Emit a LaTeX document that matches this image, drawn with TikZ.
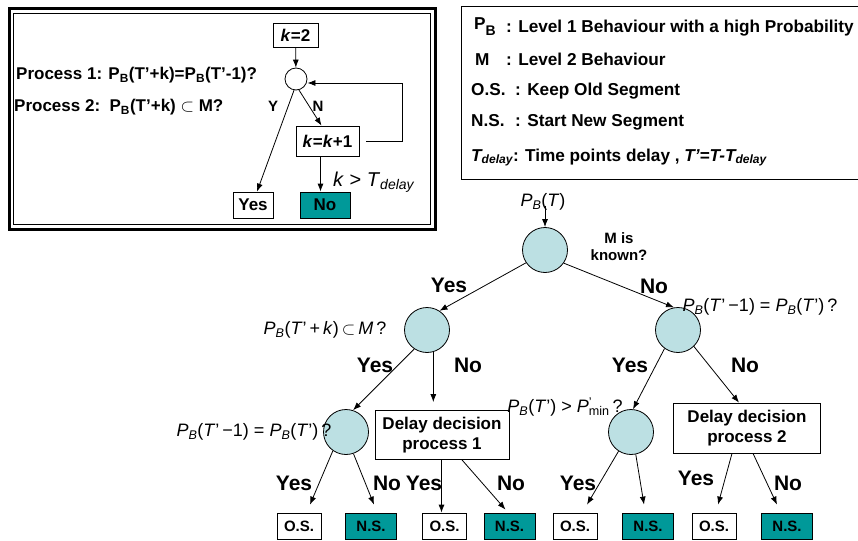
\documentclass[tikz,border=0pt]{standalone}
\usepackage{fontspec}
\setmainfont{Liberation Sans}
\usetikzlibrary{arrows.meta}
\definecolor{circfill}{RGB}{188,224,227}
\definecolor{nsteal}{RGB}{0,153,153}
\newcommand{\pbsub}{\textit{P}\textsubscript{\textit{B}}}
\newcommand{\pbbold}{P\textsubscript{B}}

\begin{document}
\begin{tikzpicture}[x=1pt,y=-1pt,
		every node/.style={font=\bfseries\fontsize{17}{20}\selectfont, inner sep=0pt},
		arr/.style={-{Latex[length=8pt,width=6pt]}, line width=0.8pt},
		test/.style={circle, draw, fill=circfill, minimum size=45pt, line width=0.8pt},
		box/.style={draw, fill=white, line width=0.8pt, minimum height=26pt},
		osbox/.style={box, minimum width=44pt, font=\bfseries\fontsize{15}{15}\selectfont},
		nsbox/.style={osbox, fill=nsteal, minimum width=51pt},
		yn/.style={font=\bfseries\fontsize{21}{21}\selectfont},
		cond/.style={font=\fontsize{18}{18}\selectfont},
		legend/.style={anchor=base west, font=\bfseries\fontsize{17.2}{20}\selectfont}]
	\useasboundingbox (0,0) rectangle (858,540);
			\draw [line width=3pt] (9,8.5) rectangle (435,229);
			\draw [line width=0.8pt] (13.5,13) rectangle (430.5,224.5);
			\node [anchor=base west] (proc1) at (16,80) {Process 1: \pbbold(T'+k)=\pbbold(T'-1)?};
			\node [anchor=base west] (proc2) at (14,112) {Process 2:\ \ \pbbold(T'+k) $\subset$ M?};
			\node [box, minimum width=45pt, minimum height=24pt] (kset) at (295.5,35) {\textit{k}=2};
			\node [circle, draw, line width=0.8pt, minimum size=22pt] (chk) at (296,79) {};
			\node [box, minimum width=63pt, minimum height=30pt] (kinc) at (327.5,141) {\textit{k}=\textit{k}+1};
			\node [box, minimum width=40pt] (yesb) at (253,205) {Yes};
			\node [box, fill=nsteal, minimum width=50pt] (nob) at (325,205) {No};
			\node [font=\bfseries\fontsize{15}{15}\selectfont] (ylab) at (273,106) {Y};
			\node [font=\bfseries\fontsize{15}{15}\selectfont] (nlab) at (318,106) {N};
			\node [anchor=base west, font=\fontsize{20}{20}\selectfont] (kgt) at (333,186) {\textit{k} > \textit{T}\textsubscript{\textit{delay}}};
			\coordinate (loop) at (402,83);
			\draw [arr] (kset) -- (chk);
			\draw [arr] (chk.-75) -- ([xshift=-6pt]kinc.north);
			\draw [arr] (chk.-100) -- ([xshift=4pt]yesb.north);
			\draw [arr] ([xshift=-7pt]kinc.south) -- ([xshift=-7pt]kinc.south |- nob.north);
			\draw [line width=0.8pt, -{Latex[length=8pt,width=6pt]}] ([xshift=7pt]kinc.east) -| (loop) -- (loop -| chk.east);
			\draw [line width=0.8pt] (461,6) rectangle (862,179);
			\node [legend] (keypb) at (474,30) {P\raisebox{-6pt}{\fontsize{14}{14}\selectfont B}};
			\node [legend] (txtpb) at (506,33) {: Level 1 Behaviour with a high Probability};
			\node [legend] (keym) at (475,66) {M};
			\node [legend] (txtm) at (506,66) {: Level 2 Behaviour};
			\node [legend] (keyos) at (471,96) {O.S.};
			\node [legend] (txtos) at (515,96) {: Keep Old Segment};
			\node [legend] (keyns) at (471,127) {N.S.};
			\node [legend] (txtns) at (515,127) {: Start New Segment};
			\node [legend] (txtdl) at (471,161) {\textit{T\textsubscript{delay}}: Time points delay , \textit{T'=T-T\textsubscript{delay}}};
			\node [cond] (pbt) at (543,202) {\pbsub(\textit{T})};
			\node [test] (root) at (545,250) {};
			\node [align=center, font=\bfseries\fontsize{15}{17}\selectfont] (mknown) at (619,247) {M is\\known?};
			\node [test] (lone) at (427,330) {};
			\node [test] (rone) at (678,330) {};
			\node [test] (ltwo) at (346,432) {};
			\node [test] (rtwo) at (631,432) {};
			\node [box, minimum width=134pt, minimum height=49pt, align=center] (delone) at (442,435) {Delay decision\\process 1};
			\node [box, minimum width=147pt, minimum height=50pt, align=center] (deltwo) at (747,428) {Delay decision\\process 2};
			\node [cond] (qone) at (325,330) {\pbsub(\textit{T}'\,+\,\textit{k})\,$\subset$\,\textit{M}\,?};
			\node [cond] (qtwo) at (760,307) {\pbsub(\textit{T}'\,−1) = \pbsub(\textit{T}')\,?};
			\node [cond] (qthree) at (254,432) {\pbsub(\textit{T}'\,−1) = \pbsub(\textit{T}')\,?};
			\node [cond] (qfour) at (565,407) {\pbsub(\textit{T}') > \textit{P}\rlap{\textsuperscript{'}}\textsubscript{min}\,?};
			\node [osbox] (osa) at (299,526) {O.S.};
			\node [nsbox] (nsa) at (371,526) {N.S.};
			\node [osbox] (osb) at (444.5,526) {O.S.};
			\node [nsbox] (nsb) at (509.5,526) {N.S.};
			\node [osbox] (osc) at (575,526) {O.S.};
			\node [nsbox] (nsc) at (648,526) {N.S.};
			\node [osbox] (osd) at (714,526) {O.S.};
			\node [nsbox] (nsd) at (787,526) {N.S.};
			\node [yn] (yroot) at (449,285) {Yes};
			\node [yn] (nroot) at (654,286) {No};
			\node [yn] (ylone) at (375,365) {Yes};
			\node [yn] (nlone) at (468,365) {No};
			\node [yn] (yrone) at (630,365) {Yes};
			\node [yn] (nrone) at (745,365) {No};
			\node [yn] (yltwo) at (294,483) {Yes};
			\node [yn] (nltwo) at (387,483) {No};
			\node [yn] (ydone) at (424,483) {Yes};
			\node [yn] (ndone) at (511,483) {No};
			\node [yn] (yrtwo) at (578,483) {Yes};
			\node [yn] (ydtwo) at (696,478) {Yes};
			\node [yn] (ndtwo) at (788,483) {No};
			\draw [arr] ([yshift=5pt]pbt.south -| root.north) -- (root.north);
			\draw [arr] (root.-146) -- (lone.57);
			\draw [arr] (root.-35) -- (rone.100);
			\draw [arr] (lone.-124) -- (ltwo.72);
			\draw [arr] (lone.-74) -- ([yshift=8pt]lone.-74 |- delone.north);
			\draw [arr] (rone.-126) -- (rtwo.85);
			\draw [arr] (rone.-46) -- ([xshift=-8pt]deltwo.north);
			\draw [arr] (ltwo.-125) -- ([xshift=11pt,yshift=8pt]osa.north);
			\draw [arr] (ltwo.-71) -- ([xshift=3pt,yshift=8pt]nsa.north);
			\draw [arr] ([xshift=-3pt]osb.north |- delone.south) -- ([xshift=-3pt]osb.north);
			\draw [arr] ([xshift=20pt]delone.south) -- ([xshift=-4pt,yshift=3pt]nsb.north);
			\draw [arr] (rtwo.-123) -- ([xshift=12pt,yshift=8pt]osc.north);
			\draw [arr] (rtwo.-78) -- ([xshift=-4pt,yshift=8pt]nsc.north);
			\draw [arr] ([xshift=-15pt]deltwo.south) -- ([xshift=4pt,yshift=8pt]osd.north);
			\draw [arr] ([xshift=6pt]deltwo.south) -- ([xshift=-10pt,yshift=8pt]nsd.north);
		\end{tikzpicture}
\end{document}
